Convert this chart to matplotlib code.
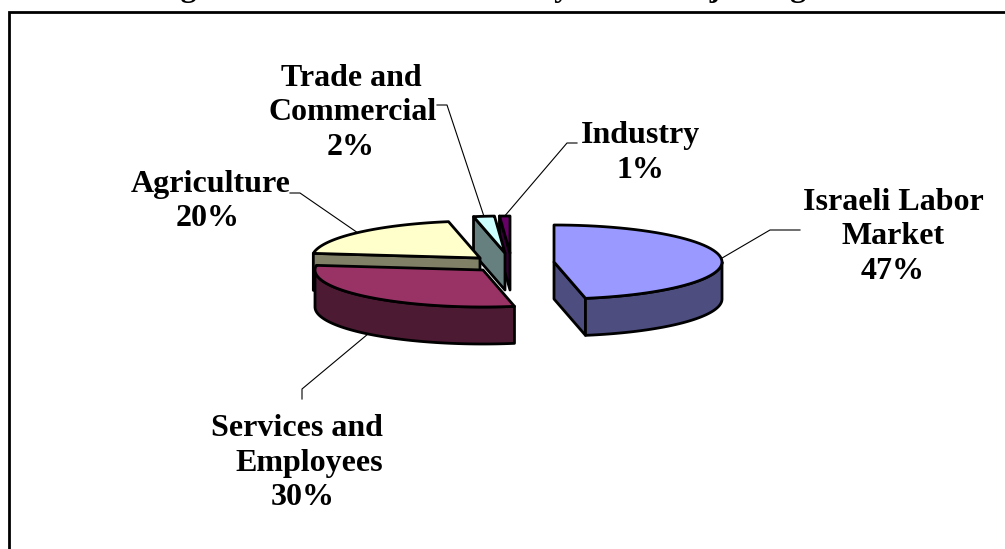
# -*- coding: utf-8 -*-
# Exploded 3D style pie, labour market shares
import numpy as np
import matplotlib
matplotlib.use('Agg')
import matplotlib.pyplot as plt
from matplotlib.patches import Polygon

# Data ########################################################################
categories = ['Israeli Labor\nMarket', 'Services and\nEmployees', 'Agriculture',
              'Trade and\nCommercial', 'Industry']
shares = [47, 30, 20, 2, 1]

# Only the descenders of the title survive in the picture, wording is a guess
title = 'Figure 3: Labor Force Activity in the Major Segments'

# Styles and layout ###########################################################
top_colors = ['#9999FF', '#993366', '#FFFFCC', '#CCFFFF', '#660066']
side_colors = ['#4D4D80', '#4D1A33', '#808066', '#668080', '#330033']
centers = [(554, 262), (483, 270), (480, 258), (505, 253), (510, 253)]
RX, RY, DEPTH = 168, 37, 37
EDGE_LW = 2.0
draw_order = [4, 3, 2, 1, 0]

# first baseline of the label, line x positions, alignment per line
label_layout = [
    {'y': 210, 'x': [893, 893, 893], 'ha': ['center'] * 3},
    {'y': 436, 'x': [383, 383, 303], 'ha': ['right', 'right', 'center']},
    {'y': 192, 'x': [211, 208], 'ha': ['center'] * 2},
    {'y': 86, 'x': [351, 353, 351], 'ha': ['center'] * 3},
    {'y': 143, 'x': [640, 640], 'ha': ['center'] * 2},
]
line_step = 34.5
# bends of the leader lines, going out from the slice
leader_bends = [
    [(770, 230), (800, 230)],
    [(302, 389), (302, 399)],
    [(300, 193), (290, 193)],
    [(447, 105), (437, 105)],
    [(567, 143), (577, 143)],
]
leader_on_rim = [False, True, False, False, False]

plt.rcParams['font.family'] = ['Liberation Serif', 'DejaVu Serif']


def arc(center, a0, a1, drop=0, n=60):
    # angles in degrees, clockwise from 12 o'clock
    t = np.radians(np.linspace(a0, a1, n))
    return np.column_stack((center[0] + RX * np.sin(t),
                            center[1] - RY * np.cos(t) + drop))


def add_poly(ax, pts, color):
    ax.add_patch(Polygon(pts, closed=True, facecolor=color, edgecolor='black',
                         linewidth=EDGE_LW, joinstyle='round'))


def cut_face(center, angle):
    p = arc(center, angle, angle, n=1)[0]
    return [center, p, (p[0], p[1] + DEPTH), (center[0], center[1] + DEPTH)]


fig = plt.figure(figsize=(10.05, 5.49), dpi=100)
ax = fig.add_axes([0, 0, 1, 1])
ax.set_xlim(0, 1005)
ax.set_ylim(549, 0)
ax.axis('off')

# Frame, only top and left are inside the picture
ax.plot([9, 9, 1005], [549, 12, 12], color='black', lw=2, solid_joinstyle='miter')

ax.text(520, -4, title, ha='center', va='baseline', fontsize=23,
        fontweight='bold', color='black')

# Slices ######################################################################
bounds = np.concatenate(([0], np.cumsum(shares))) * 3.6
for i in draw_order:
    a0, a1 = bounds[i], bounds[i + 1]
    c = centers[i]
    if 180 < a0 < 360:
        add_poly(ax, cut_face(c, a0), side_colors[i])
    if 0 < a1 < 180:
        add_poly(ax, cut_face(c, a1), side_colors[i])
    r0, r1 = max(a0, 90), min(a1, 270)
    if r0 < r1:
        rim = np.vstack((arc(c, r0, r1), arc(c, r1, r0, drop=DEPTH)))
        add_poly(ax, rim, side_colors[i])
    add_poly(ax, np.vstack(([c], arc(c, a0, a1))), top_colors[i])

# Labels and leader lines #####################################################
for i, name in enumerate(categories):
    a0, a1 = bounds[i], bounds[i + 1]
    start = arc(centers[i], (a0 + a1) / 2, (a0 + a1) / 2, n=1)[0]
    if leader_on_rim[i]:
        start = (start[0], start[1] + DEPTH)
    pts = [tuple(start)] + leader_bends[i]
    ax.plot([p[0] for p in pts], [p[1] for p in pts], color='black', lw=0.8)

    lines = name.split('\n') + ['%d%%' % shares[i]]
    lay = label_layout[i]
    for j, line in enumerate(lines):
        ax.text(lay['x'][j], lay['y'] + j * line_step, line, ha=lay['ha'][j],
                va='baseline', fontsize=23, fontweight='bold', color='black')

fig.savefig('out.png', dpi=100)
plt.close()
